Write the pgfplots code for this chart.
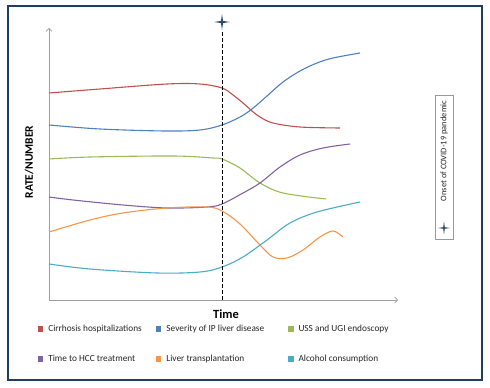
\documentclass[border=0pt]{standalone}
\usepackage{pgfplots}
\pgfplotsset{compat=1.18}
\usepackage{fontspec}
\setmainfont{Carlito}
\usetikzlibrary{arrows.meta}
\definecolor{cred}{HTML}{C0504D}
\definecolor{cblue}{HTML}{4F81BD}
\definecolor{cgreen}{HTML}{9BBB59}
\definecolor{cpurple}{HTML}{8064A2}
\definecolor{corange}{HTML}{F79646}
\definecolor{cteal}{HTML}{4BACC6}
\definecolor{frame}{HTML}{1F3F5F}
\definecolor{starc}{HTML}{2C4A6B}
\pgfdeclareplotmark{star4}{%
  \pgfpathmoveto{\pgfqpoint{0pt}{\pgfplotmarksize}}%
  \pgfpathlineto{\pgfqpoint{0.13\pgfplotmarksize}{0.13\pgfplotmarksize}}%
  \pgfpathlineto{\pgfqpoint{\pgfplotmarksize}{0pt}}%
  \pgfpathlineto{\pgfqpoint{0.13\pgfplotmarksize}{-0.13\pgfplotmarksize}}%
  \pgfpathlineto{\pgfqpoint{0pt}{-\pgfplotmarksize}}%
  \pgfpathlineto{\pgfqpoint{-0.13\pgfplotmarksize}{-0.13\pgfplotmarksize}}%
  \pgfpathlineto{\pgfqpoint{-\pgfplotmarksize}{0pt}}%
  \pgfpathlineto{\pgfqpoint{-0.13\pgfplotmarksize}{0.13\pgfplotmarksize}}%
  \pgfpathclose\pgfusepathqfill}
\begin{document}
\begin{tikzpicture}[x=1pt,y=1pt]
\useasboundingbox[fill=white] (0,0) rectangle (490,388);
\draw[line width=2pt, frame] (7.5,381.5) rectangle (482,8);
\begin{axis}[
  at={(49,88)}, anchor=south west,
  scale only axis, width=349pt, height=272pt,
  xmin=0, xmax=349, ymin=0, ymax=272,
  axis lines=left,
  axis line style={draw=gray!75, line width=0.7pt, -{Straight Barb[length=3pt,width=6pt]}},
  xtick=\empty, ytick=\empty,
  clip=false,
  xlabel={\bfseries Time},
  xlabel style={at={(axis description cs:0.507,-0.0515)}, anchor=center, font=\fontsize{12.5}{14}\selectfont},
  ylabel={\bfseries RATE/NUMBER},
  ylabel style={at={(axis description cs:-0.0573,0.507)}, anchor=center, font=\fontsize{11.5}{13}\selectfont},
  legend columns=3,
  legend style={draw=none, fill=none, inner sep=0pt,
    at={(axis description cs:-0.0315,-0.092)}, anchor=north west,
    font=\fontsize{9.3}{11}\selectfont, text=black!85,
    cells={anchor=west},
    nodes={inner sep=0pt},
    row sep=22pt,
    /tikz/every odd column/.append style={column sep=5pt}},
  legend image code/.code={\fill[#1] (0pt,-2.5pt) rectangle (4pt,2.5pt);},
  every axis plot/.append style={line width=1.1pt, smooth, tension=0.55},
]
\addplot[cred] coordinates {(0,207) (51,211) (118,216) (151,216) (173,212) (184,205) (194,197) (203,189) (211,183) (224,177) (251,173) (291,172)};
\addlegendentry{\makebox[108pt][l]{Cirrhosis hospitalizations}}
\addplot[cblue] coordinates {(0,175) (51,171) (116,169) (151,170) (173,175) (191,183) (203,191) (218,204) (234,218) (251,229) (268,237) (284,242) (311,247)};
\addlegendentry{\makebox[122pt][l]{Severity of IP liver disease}}
\addplot[cgreen] coordinates {(0,141) (41,143) (124,144) (164,142) (173,141) (191,132) (211,117) (234,107) (277,101)};
\addlegendentry{USS and UGI endoscopy}
\addplot[cpurple] coordinates {(0,103) (24,100) (74,95) (118,92) (158,93) (173,96) (194,107) (211,117) (231,133) (251,145) (274,152) (301,156)};
\addlegendentry{\makebox[108pt][l]{Time to HCC treatment}}
\addplot[corange] coordinates {(0,68) (41,80) (74,87) (118,92) (158,93) (173,89) (191,76) (211,55) (224,43) (238,42) (254,50) (271,63) (284,69) (294,63)};
\addlegendentry{\makebox[122pt][l]{Liver transplantation}}
\addplot[cteal] coordinates {(0,36) (41,31) (108,27) (151,28) (173,33) (194,43) (218,60) (241,77) (268,88) (311,98)};
\addlegendentry{Alcohol consumption}
\draw[black, line width=1pt, dash pattern=on 3.5pt off 2.5pt] (axis cs:173,0) -- (axis cs:173,268);
\addplot[forget plot, only marks, mark=star4, mark size=8pt, color=starc] coordinates {(173,278)};
\end{axis}
\draw[gray!80, line width=0.6pt] (435,149) rectangle (453,293);
\node[rotate=90, font=\fontsize{8.5}{10}\selectfont, text=black!85, inner sep=0pt] at (444,237) {Onset of COVID-19 pandemic};
\fill[starc] (444,166.5) -- (444.8,160.8) -- (450,160) -- (444.8,159.2) -- (444,153.5) -- (443.2,159.2) -- (438,160) -- (443.2,160.8) -- cycle;
\end{tikzpicture}
\end{document}
